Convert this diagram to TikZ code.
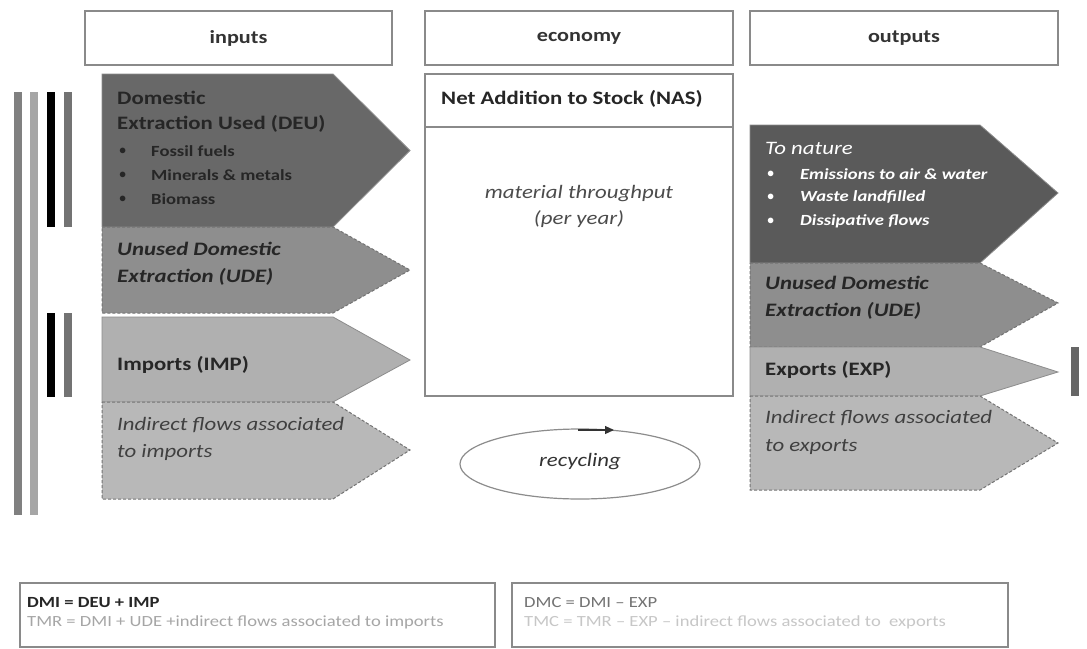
\documentclass[tikz,border=0pt]{standalone}
\usepackage{fontspec}
\setmainfont[FakeStretch=1.2]{Carlito}
\usetikzlibrary{arrows.meta}
\definecolor{deu}{HTML}{686868}
\definecolor{ude}{HTML}{8E8E8E}
\definecolor{imp}{HTML}{B0B0B0}
\definecolor{ind}{HTML}{B8B8B8}
\definecolor{nat}{HTML}{5A5A5A}
\definecolor{edge}{HTML}{8A8A8A}
\tikzset{
  hdr/.style={draw=edge, line width=1.2pt, fill=white, minimum height=54pt},
  hdrtxt/.style={font=\fontsize{18.5}{20}\selectfont\bfseries, text=black!80},
  solidchev/.style={draw=black!45, line width=0.8pt},
  dashchev/.style={draw=black!55, line width=1pt, dash pattern=on 3pt off 2pt},
  ttl/.style={anchor=west, inner sep=0pt, font=\fontsize{19}{21}\selectfont\bfseries, text=black!85},
  ttli/.style={anchor=west, inner sep=0pt, font=\fontsize{19}{21}\selectfont\bfseries\itshape, text=black!85},
  ittxt/.style={anchor=west, inner sep=0pt, font=\fontsize{19}{21}\selectfont\itshape, text=black!75},
  bul/.style={anchor=west, inner sep=0pt, font=\fontsize{15.5}{17}\selectfont\bfseries, text=black!85},
  bulw/.style={anchor=west, inner sep=0pt, font=\fontsize{15.5}{17}\selectfont\bfseries\itshape, text=white},
  bar/.style={line width=8pt},
  eqbox/.style={draw=edge, line width=1.2pt},
  eqtxt/.style={anchor=west, inner sep=0pt, font=\fontsize{15.5}{17}\selectfont},
}
\begin{document}
\begin{tikzpicture}[x=1pt,y=-1pt]
\useasboundingbox (0,0) rectangle (1087,648);
\fill[white] (0,0) rectangle (1087,648);

% header boxes
\node[hdr, minimum width=307pt] (hin) at (238.5,38) {};
\node[hdrtxt] (hintxt) at (hin) {inputs};
\node[hdr, minimum width=308pt] (hec) at (579,38) {};
\node[hdrtxt] (hectxt) at (hec) {economy};
\node[hdr, minimum width=308pt] (hout) at (904,38) {};
\node[hdrtxt] (houttxt) at (hout) {outputs};

% economy box
\draw[draw=edge, line width=1.2pt] (425,74) rectangle (733,396);
\draw[draw=edge, line width=1.2pt] (425,127) -- (733,127);
\node[font=\fontsize{19}{21}\selectfont\bfseries, text=black!85] (nas) at (572,99) {Net Addition to Stock (NAS)};
\node[font=\fontsize{19}{26}\selectfont\itshape, text=black!70, align=center] (thr) at (579,206) {material throughput\\(per year)};

% recycling
\draw[draw=black!45, line width=1.2pt] (580,464) ellipse [x radius=120pt, y radius=35pt];
\node[font=\fontsize{19}{21}\selectfont\itshape, text=black!80] (rec) at (580,462) {recycling};
\coordinate (ra) at (578,430);
\coordinate (rb) at (614,430);
\draw[black!80, line width=1.2pt, -{Triangle[length=9pt,width=8pt]}] (ra) -- (rb);

% left chevrons
\path[fill=deu, solidchev] (102,74) -- (333,74) -- (410,150.5) -- (333,227) -- (102,227) -- cycle;
\path[fill=ude, dashchev] (102,227) -- (333,227) -- (410,270) -- (333,313) -- (102,313) -- cycle;
\path[fill=imp, solidchev] (102,317) -- (333,317) -- (410,360) -- (333,402) -- (102,402) -- cycle;
\path[fill=ind, dashchev] (102,402) -- (333,402) -- (410,450) -- (333,499) -- (102,499) -- cycle;

\node[ttl] (deu1) at (117,98) {Domestic};
\node[ttl] (deu2) at (117,124) {Extraction Used (DEU)};
\node[bul] (b1) at (119,151) {$\bullet$};
\node[bul] (deua) at (151,151) {Fossil fuels};
\node[bul] (b2) at (119,175) {$\bullet$};
\node[bul] (deub) at (151,175) {Minerals \& metals};
\node[bul] (b3) at (119,199) {$\bullet$};
\node[bul] (deuc) at (151,199) {Biomass};
\node[ttli] (ude1) at (117,249) {Unused Domestic};
\node[ttli] (ude2) at (117,277) {Extraction (UDE)};
\node[ttl] (impt) at (117,365) {Imports (IMP)};
\node[ittxt] (ind1) at (117,425) {Indirect flows associated};
\node[ittxt] (ind2) at (117,452) {to imports};

% left bars
\draw[bar, draw=black!50] (17.5,92) -- (17.5,515);
\draw[bar, draw=black!35] (34,92) -- (34,515);
\draw[bar, draw=black] (51,92) -- (51,227);
\draw[bar, draw=black!55] (68,92) -- (68,227);
\draw[bar, draw=black] (51,313) -- (51,397);
\draw[bar, draw=black!55] (68,313) -- (68,397);

% right chevrons
\path[fill=nat, solidchev] (750,125) -- (980,125) -- (1058,193) -- (980,263) -- (750,263) -- cycle;
\path[fill=ude, dashchev] (750,263) -- (980,263) -- (1058,303) -- (980,347) -- (750,347) -- cycle;
\path[fill=imp, solidchev] (750,347) -- (980,347) -- (1058,372) -- (980,396) -- (750,396) -- cycle;
\path[fill=ind, dashchev] (750,396) -- (980,396) -- (1058,443) -- (980,490) -- (750,490) -- cycle;

\node[anchor=west, inner sep=0pt, font=\fontsize{19}{21}\selectfont\itshape, text=white] (nat0) at (765,148) {To nature};
\node[bulw] (w1) at (767,174) {$\bullet$};
\node[bulw] (nata) at (800,174) {Emissions to air \& water};
\node[bulw] (w2) at (767,197) {$\bullet$};
\node[bulw] (natb) at (800,197) {Waste landfilled};
\node[bulw] (w3) at (767,221) {$\bullet$};
\node[bulw] (natc) at (800,221) {Dissipative flows};
\node[ttli] (rude1) at (765,283) {Unused Domestic};
\node[ttli] (rude2) at (765,311) {Extraction (UDE)};
\node[ttl] (expt) at (765,370) {Exports (EXP)};
\node[ittxt] (rind1) at (765,418) {Indirect flows associated};
\node[ittxt] (rind2) at (765,447) {to exports};

\draw[bar, draw=black!60] (1075,347) -- (1075,396);

% bottom equation boxes
\draw[eqbox] (20,583) rectangle (495,647);
\draw[eqbox] (512,583) rectangle (1008,647);
\node[eqtxt, font=\fontsize{15.5}{17}\selectfont\bfseries, text=black!85] (dmi) at (27,603) {DMI = DEU + IMP};
\node[eqtxt, text=black!35] (tmr) at (27,622) {TMR = DMI + UDE +indirect flows associated to imports};
\node[eqtxt, text=black!55] (dmc) at (524,603) {DMC = DMI – EXP};
\node[eqtxt, text=black!22] (tmc) at (524,622) {TMC = TMR – EXP – indirect flows associated to~ exports};
\end{tikzpicture}
\end{document}
